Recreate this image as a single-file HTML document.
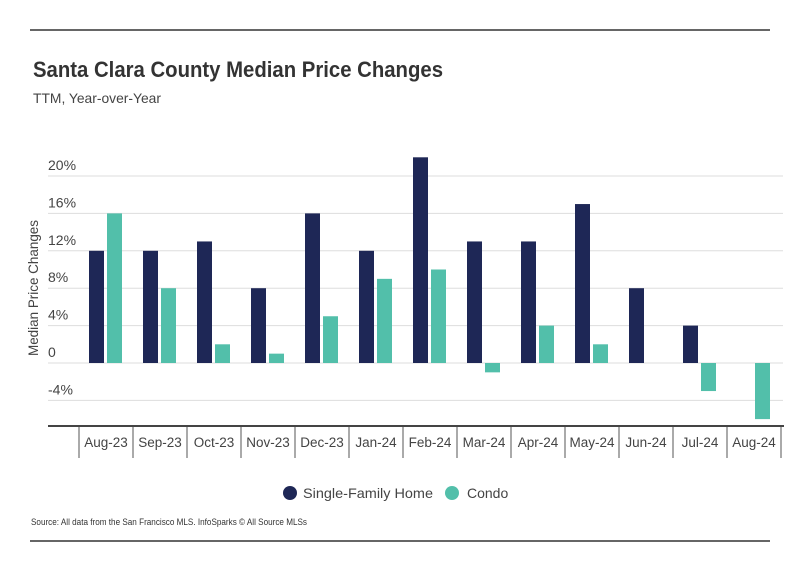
<!DOCTYPE html>
<html><head><meta charset="utf-8"><style>
body{margin:0;background:#fff;font-family:"Liberation Sans",sans-serif;}
svg text{font-family:"Liberation Sans",sans-serif;}
</style></head><body>
<svg width="799" height="575" id="c">
<line x1="30" y1="30" x2="770" y2="30" stroke="#333" stroke-width="1.5"/>
<text x="33" y="77" font-size="22" font-weight="bold" fill="#333" textLength="410" lengthAdjust="spacingAndGlyphs">Santa Clara County Median Price Changes</text>
<text x="33" y="103" font-size="14" fill="#444" textLength="128" lengthAdjust="spacingAndGlyphs">TTM, Year-over-Year</text>
<text transform="translate(38,288) rotate(-90)" text-anchor="middle" font-size="14" fill="#444" textLength="136" lengthAdjust="spacingAndGlyphs">Median Price Changes</text>
<g id="grid"></g><g id="bars"></g><g id="xax"></g>
<circle cx="290" cy="493" r="7" fill="#1e2756"/>
<text x="303" y="498" font-size="14" fill="#444" textLength="130" lengthAdjust="spacingAndGlyphs">Single-Family Home</text>
<circle cx="452" cy="493" r="7" fill="#52bfaa"/>
<text x="467" y="498" font-size="14" fill="#444">Condo</text>
<text x="31" y="525" font-size="9" fill="#333" textLength="276" lengthAdjust="spacingAndGlyphs">Source:  All data from the San Francisco MLS. InfoSparks © All Source MLSs</text>
<line x1="30" y1="541" x2="770" y2="541" stroke="#333" stroke-width="1.5"/>
</svg>
<script>
const categories=["Aug-23","Sep-23","Oct-23","Nov-23","Dec-23","Jan-24","Feb-24","Mar-24","Apr-24","May-24","Jun-24","Jul-24","Aug-24"];
const sfh=[12,12,13,8,16,12,22,13,13,17,8,4,null];
const condo=[16,8,2,1,5,9,10,-1,4,2,null,-3,-6];
const ticks=[20,16,12,8,4,0,-4];
const tickLabels=["20%","16%","12%","8%","4%","0","-4%"];
const NS="http://www.w3.org/2000/svg";
const y=v=>363-v*9.35;
const x0=79,band=54;
function mk(t,a,p){const e=document.createElementNS(NS,t);for(const k in a)e.setAttribute(k,a[k]);p.appendChild(e);return e;}
const g=document.getElementById('grid'),b=document.getElementById('bars'),xa=document.getElementById('xax');
ticks.forEach((t,i)=>{
 const l=mk('line',{x1:48,x2:783,y1:y(t),y2:y(t),stroke:'#ddd','stroke-width':1},g);
 
 
 const tx=mk('text',{x:48,y:y(t)-6,'font-size':14,fill:'#444'},g);
 tx.textContent=tickLabels[i];
 
 
});
categories.forEach((c,i)=>{
 const cx=x0+band*i+band/2;
 [[sfh[i],'#1e2756',-17,'bar-sfh'],[condo[i],'#52bfaa',1,'bar-condo']].forEach(([v,col,off,nm])=>{
  if(v===null)return;
  const r=mk('rect',{x:cx+off,width:15,y:Math.min(y(v),y(0)),height:Math.abs(y(v)-y(0)),fill:col},b);
  
  
 });
 const d=mk('line',{x1:x0+band*i,x2:x0+band*i,y1:426,y2:458,stroke:'#555','stroke-width':1},xa);
 
 
 const t=mk('text',{x:cx,y:447,'text-anchor':'middle','font-size':13.5,fill:'#444'},xa);
 t.textContent=c;
 
 
});
const e=mk('line',{x1:x0+band*13,x2:x0+band*13,y1:426,y2:458,stroke:'#555','stroke-width':1},xa);


const ax=mk('line',{x1:48,x2:784,y1:426,y2:426,stroke:'#444','stroke-width':2},xa);


</script>
</body></html>
